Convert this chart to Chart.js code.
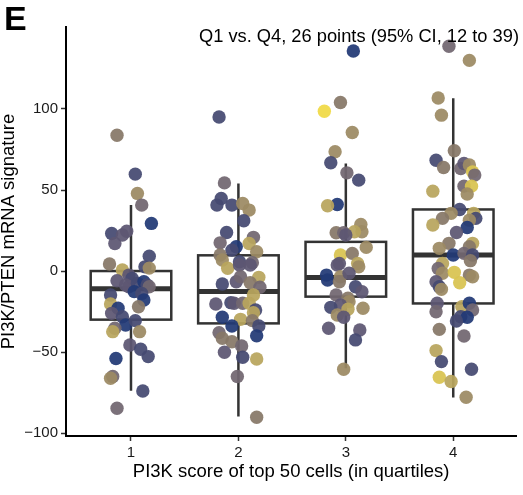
<!DOCTYPE html>
<html>
<head>
<meta charset="utf-8">
<script src="https://cdn.jsdelivr.net/npm/chart.js@4.4.1/dist/chart.umd.min.js"></script>
<style>
  html, body { margin: 0; padding: 0; background: #fff; }
</style>
</head>
<body>
<canvas id="myChart" width="523" height="495"></canvas>
<script>
// quartile groups on the x axis
const quartiles = [1, 2, 3, 4];
const yTicks = [-100, -50, 0, 50, 100];

// box stats per quartile: whisker low, q1, median, q3, whisker high
const whiskerLow = [-73.8, -89.8, -60, -78];
const boxLow = [-30, -32.3, -15.8, -20];
const boxMid = [-11, -12.7, -4, 9.9];
const boxHigh = [0, 9.7, 18, 38];
const whiskerHigh = [40.7, 54, 66.4, 106.6];

// jittered cells: signature value, horizontal jitter, shade index
const q1Values = [83.8, 59.8, 47.9, 40.7, 29.4, 23.2, 24.6, 22.2, 17.0, 9.2, 4.3, 0.6, 2.6, 1.8,
  -6.0, -2.5, -4.5, -8.6, -9.7, -7.6, -6.6, -8.6, -9.7, -12.7, -13.8, -17.9, -14.8, -20.3,
  -23.0, -26.1, -22.0, -28.2, -33.3, -35.3, -37.4, -30.6, -37.4, -45.6, -48.3, -52.8, -54.0,
  -65.1, -66.2, -74.0, -84.7];
const q1Jitter = [-0.13, 0.04, 0.06, 0.10, 0.19, -0.18, -0.04, -0.08, -0.15, 0.17, -0.20, -0.08, 0.13, 0.17,
  -0.13, -0.02, 0.01, -0.05, -0.02, 0.06, 0.12, 0.15, 0.17, 0.03, 0.10, 0.12, -0.19, -0.19,
  -0.12, -0.18, 0.07, -0.08, -0.05, -0.15, -0.17, 0.04, 0.08, -0.01, 0.09, 0.16, -0.14,
  -0.17, -0.19, 0.11, -0.13];
const q1Shade = [4, 1, 5, 3, 0, 1, 2, 2, 2, 1, 4, 6, 1, 5,
  2, 2, 1, 2, 2, 1, 0, 1, 3, 0, 1, 0, 1, 6,
  0, 2, 4, 1, 0, 3, 6, 1, 5, 2, 1, 1, 0,
  3, 5, 1, 3];

const q2Values = [95.1, 54.4, 44.8, 40.7, 40.7, 41.7, 37.6, 31.0, 23.8, 17.4, 20.8, 17.0, 15.0, 12.9,
  11.9, 9.9, 5.7, 5.1, 6.8, 1.7, 3.7, 3.7, -3.9, -8.0, -6.6, -3.5, -7.2, -10.0, -14.8,
  -20.3, -19.5, -19.9, -19.9, -19.9, -24.0, -25.7, -28.5, -29.8, -33.9, -30.6, -33.9, -40.0,
  -38.0, -41.5, -43.6, -46.2, -50.1, -53.2, -54.3, -65.1, -90.2];
const q2Jitter = [-0.18, -0.13, -0.16, -0.20, -0.06, 0.04, 0.10, 0.05, -0.11, -0.17, 0.14, 0.10, -0.02, -0.06,
  0.17, -0.17, 0.01, 0.13, -0.15, -0.10, 0.01, 0.11, 0.19, -0.15, -0.02, 0.02, 0.11, 0.20, 0.14,
  -0.21, -0.07, -0.04, 0.04, 0.10, 0.16, 0.14, -0.15, 0.02, -0.06, 0.13, 0.19, 0.17,
  -0.18, -0.15, -0.06, 0.03, -0.13, 0.04, 0.17, -0.01, 0.17];
const q2Shade = [1, 3, 1, 1, 1, 5, 5, 1, 1, 3, 3, 6, 0, 1,
  5, 4, 1, 3, 5, 6, 2, 2, 6, 1, 2, 3, 4, 3, 6,
  2, 1, 2, 3, 6, 1, 6, 0, 6, 0, 4, 1, 0,
  3, 4, 4, 3, 2, 1, 6, 3, 4];

const q3Values = [135.8, 104.0, 98.6, 85.5, 73.6, 66.8, 60.6, 56.1, 41.1, 40.3, 28.8, 24.2, 23.6, 23.6,
  24.2, 22.2, 14.6, 9.9, 10.9, 4.7, 2.6, 4.7, 3.7, -2.5, -5.5, -3.5, -6.6, -1.4, -9.7,
  -12.8, -14.8, -16.8, -18.9, -21.0, -22.4, -23.0, -23.6, -27.1, -28.5, -35.3, -36.4, -42.5, -60.6];
const q3Jitter = [0.07, -0.05, -0.20, 0.06, -0.10, -0.14, 0.01, 0.12, -0.08, -0.17, 0.14, 0.15, -0.09, -0.02,
  0.08, 0.0, 0.19, -0.05, 0.06, 0.11, 0.12, -0.06, -0.08, -0.18, -0.17, -0.05, -0.06, 0.03, 0.09,
  0.15, -0.09, 0.02, 0.03, -0.05, -0.14, 0.16, 0.02, -0.08, -0.02, -0.16, 0.13, 0.09, -0.02];
const q3Shade = [0, 4, 8, 5, 5, 1, 3, 1, 0, 6, 5, 5, 4, 3,
  6, 2, 5, 7, 4, 6, 5, 2, 2, 0, 0, 5, 4, 2, 1,
  2, 3, 4, 5, 2, 1, 5, 6, 5, 2, 2, 2, 1, 5];

const q4Values = [138.7, 130, 106.8, 96.2, 74.2, 68.4, 63.9, 63.3, 66.4, 65.4, 61.2, 59.2, 49.3, 52.4,
  52.4, 47.5, 38.0, 35.6, 32.5, 35.6, 32.5, 31.4, 28.4, 26.9, 23.8, 17.1, 17.1, 14.0, 15.0,
  9.9, 10.9, 9.9, 6.4, 4.7, 1.6, -1.4, -0.8, -2.5, -3.5, -7.2, -6.6, -9.7, -11.3,
  -19.9, -25.1, -22.0, -19.9, -24.0, -28.2, -28.5, -30.8, -36.0, -40.1, -49.1, -55.9, -60.6,
  -65.5, -68.2, -77.9];
const q4Jitter = [-0.04, 0.15, -0.14, -0.11, 0.01, -0.16, -0.09, 0.07, 0.10, 0.15, 0.18, 0.20, -0.19, 0.10,
  0.17, 0.13, 0.06, -0.02, -0.10, 0.19, 0.21, 0.15, -0.19, 0.13, 0.03, -0.04, 0.18, -0.13, 0.15,
  0.0, 0.10, 0.18, 0.16, -0.10, -0.14, -0.10, 0.01, 0.15, 0.18, 0.06, -0.16, -0.13, -0.11,
  -0.15, -0.16, 0.08, 0.15, 0.18, 0.07, 0.13, 0.03, -0.13, 0.10, -0.16, -0.11, 0.17,
  -0.13, -0.02, 0.12];
const q4Shade = [3, 5, 5, 5, 4, 1, 4, 3, 2, 5, 7, 3, 6, 3,
  7, 5, 1, 5, 4, 6, 1, 5, 6, 0, 2, 4, 6, 5, 4,
  0, 3, 1, 4, 6, 3, 5, 7, 4, 5, 7, 2, 1, 5,
  2, 3, 6, 0, 3, 1, 0, 1, 4, 3, 6, 1, 1,
  7, 6, 5];

// cividis-like shades, dark navy to yellow
const shades = ['#223a76', '#464a72', '#5d5773', '#726770', '#877868', '#9c8a64', '#b8a55d', '#d8c350', '#f0da46'];

const groups = [
  [q1Values, q1Jitter, q1Shade],
  [q2Values, q2Jitter, q2Shade],
  [q3Values, q3Jitter, q3Shade],
  [q4Values, q4Jitter, q4Shade]
];

let points = [];
let pointColors = [];
groups.forEach(function (g, i) {
  g[0].forEach(function (v, k) {
    points.push({x: quartiles[i] + g[1][k], y: v});
    pointColors.push(shades[g[2][k]] + 'ee');
  });
});

const boxWidth = 0.75;

// boxes and whiskers go under the points
const boxPlugin = {
  id: 'boxes',
  beforeDatasetsDraw(chart) {
    const ctx = chart.ctx;
    const xs = chart.scales.x, ys = chart.scales.y;
    ctx.save();
    ctx.strokeStyle = '#333333';
    quartiles.forEach(function (q, i) {
      const xc = xs.getPixelForValue(q);
      const x0 = xs.getPixelForValue(q - boxWidth / 2);
      const x1 = xs.getPixelForValue(q + boxWidth / 2);
      ctx.lineWidth = 2.5;
      ctx.beginPath();
      ctx.moveTo(xc, ys.getPixelForValue(whiskerHigh[i]));
      ctx.lineTo(xc, ys.getPixelForValue(boxHigh[i]));
      ctx.moveTo(xc, ys.getPixelForValue(boxLow[i]));
      ctx.lineTo(xc, ys.getPixelForValue(whiskerLow[i]));
      ctx.stroke();
      const yTop = ys.getPixelForValue(boxHigh[i]);
      const yBot = ys.getPixelForValue(boxLow[i]);
      ctx.strokeRect(x0, yTop, x1 - x0, yBot - yTop);
      ctx.lineWidth = 5;
      ctx.beginPath();
      const ym = ys.getPixelForValue(boxMid[i]);
      ctx.moveTo(x0, ym);
      ctx.lineTo(x1, ym);
      ctx.stroke();
    });
    ctx.restore();
  }
};

// panel letter and comparison note
const labelPlugin = {
  id: 'labels',
  afterDraw(chart) {
    const ctx = chart.ctx;
    ctx.save();
    ctx.fillStyle = '#000';
    ctx.textBaseline = 'alphabetic';
    ctx.font = 'bold 34px "Liberation Sans", Arial, sans-serif';
    ctx.textAlign = 'left';
    ctx.fillText('E', 4, 30);
    ctx.font = '18.3px "Liberation Sans", Arial, sans-serif';
    ctx.textAlign = 'right';
    ctx.fillText('Q1 vs. Q4, 26 points (95% CI, 12 to 39)', 519, 42);
    ctx.restore();
  }
};

Chart.defaults.font.family = '"Liberation Sans", Arial, sans-serif';
Chart.defaults.color = '#1a1a1a';

let ctx = document.getElementById('myChart').getContext('2d');
let myChart = new Chart(ctx, {
  type: 'scatter',
  data: {
    datasets: [{
      data: points,
      backgroundColor: pointColors,
      borderWidth: 0,
      pointRadius: 6.7,
      pointHoverRadius: 6.7
    }]
  },
  options: {
    responsive: false,
    animation: false,
    events: [],
    layout: {padding: {top: 27, right: 0, bottom: 0, left: 0}},
    plugins: {legend: {display: false}, tooltip: {enabled: false}},
    scales: {
      x: {
        type: 'linear',
        min: 0.395,
        max: 4.587,
        afterBuildTicks: function (s) { s.ticks = quartiles.map(function (v) { return {value: v}; }); },
        afterFit: function (s) { s.height = 59; },
        grid: {drawOnChartArea: false, drawTicks: true, tickLength: 5, tickColor: '#333', tickWidth: 1.5},
        border: {display: true, color: '#000', width: 2},
        ticks: {font: {size: 15}, padding: 3, color: '#1a1a1a'},
        title: {display: true, text: 'PI3K score of top 50 cells (in quartiles)', font: {size: 18.5}, color: '#000', padding: {top: 0, bottom: 12}}
      },
      y: {
        min: -101.8,
        max: 150.6,
        afterBuildTicks: function (s) { s.ticks = yTicks.map(function (v) { return {value: v}; }); },
        afterFit: function (s) { s.width = 66; },
        grid: {drawOnChartArea: false, drawTicks: true, tickLength: 5, tickColor: '#333', tickWidth: 1.5},
        border: {display: true, color: '#000', width: 2},
        ticks: {
          font: {size: 15}, padding: 3, color: '#1a1a1a',
          callback: function (v) { return v < 0 ? '\u2212' + Math.abs(v) : String(v); }
        },
        title: {display: true, text: 'PI3K/PTEN mRNA signature', font: {size: 18.5}, color: '#000', padding: {top: -2, bottom: 0}}
      }
    }
  },
  plugins: [boxPlugin, labelPlugin]
});
</script>
</body>
</html>
